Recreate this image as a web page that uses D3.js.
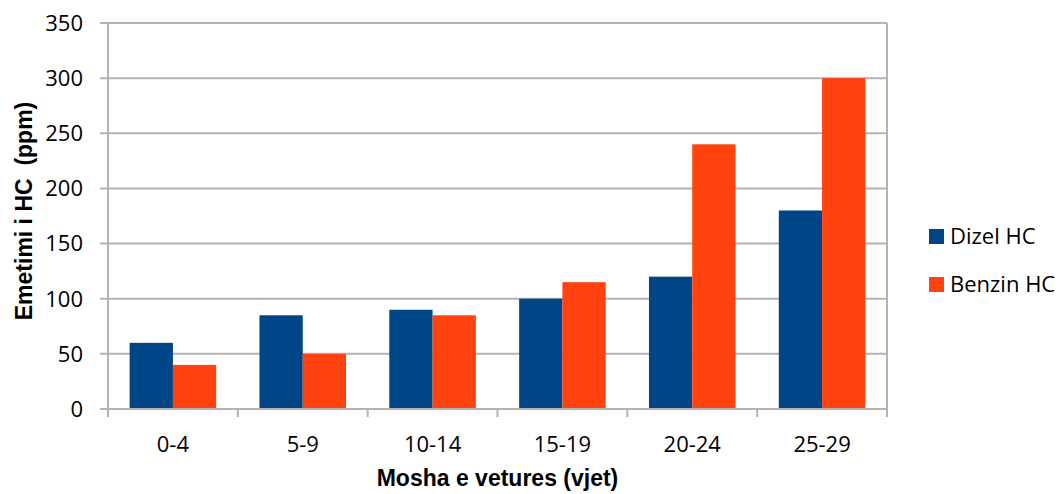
<!DOCTYPE html>
<html>
<head>
<meta charset="utf-8">
<script src="https://cdn.jsdelivr.net/npm/d3@7"></script>
<style>
  body { margin: 0; background: #fff; }
  svg { display: block; }
</style>
</head>
<body>
<svg id="chart" width="1061" height="494"></svg>
<script>
// data
var categories = ["0-4", "5-9", "10-14", "15-19", "20-24", "25-29"];
var seriesNames = ["Dizel HC", "Benzin HC"];
var dizel = [60, 85, 90, 100, 120, 180];
var benzin = [40, 50, 85, 115, 240, 300];
var yTicks = [0, 50, 100, 150, 200, 250, 300, 350];

var colors = ["#004586", "#ff420e"];
var gridColor = "#b3b3b3";
var tickFont = "'Open Sans', sans-serif";
var titleFont = "'Liberation Sans', Arial, sans-serif";

var margin = {left: 108, top: 23, right: 174, bottom: 85};
var width = 1061 - margin.left - margin.right;
var height = 494 - margin.top - margin.bottom;

var svg = d3.select("#chart");
var g = svg.append("g").attr("transform", "translate(" + margin.left + "," + margin.top + ")");

var x = d3.scaleBand().domain(categories).range([0, width]).paddingInner(0).paddingOuter(0);
var inner = d3.scaleBand().domain(seriesNames).range([x.bandwidth() / 6, x.bandwidth() * 5 / 6]);
var y = d3.scaleLinear().domain([0, 350]).range([height, 0]);

// horizontal gridlines with small ticks to the left
g.selectAll("line.grid").data(yTicks).enter().append("line")
    .attr("class", "grid")
    .attr("x1", -8).attr("x2", width)
    .attr("y1", function(d){ return y(d); })
    .attr("y2", function(d){ return y(d); })
    .attr("stroke", gridColor).attr("stroke-width", 2);

// y tick labels
g.selectAll("text.ytick").data(yTicks).enter().append("text")
    .attr("class", "ytick")
    .attr("x", -25)
    .attr("y", function(d){ return y(d); })
    .attr("dy", "0.36em")
    .attr("text-anchor", "end")
    .style("font-family", tickFont).style("font-size", "22px").attr("fill", "#000")
    .text(function(d){ return d; });

// bars
var seriesData = [dizel, benzin];
seriesData.forEach(function(vals, si){
    g.selectAll("rect.s" + si).data(vals).enter().append("rect")
        .attr("class", "s" + si)
        .attr("x", function(d, i){ return x(categories[i]) + inner(seriesNames[si]); })
        .attr("width", inner.bandwidth())
        .attr("y", function(d){ return y(d); })
        .attr("height", function(d){ return y(0) - y(d); })
        .attr("fill", colors[si]);
});

// left axis line and right border
[0, width].forEach(function(px){
    g.append("line")
        .attr("x1", px).attr("x2", px)
        .attr("y1", 0).attr("y2", height + 8)
        .attr("stroke", gridColor).attr("stroke-width", 2);
});

// baseline + category tick marks
g.append("line")
    .attr("x1", 0).attr("x2", width)
    .attr("y1", y(0)).attr("y2", y(0))
    .attr("stroke", gridColor).attr("stroke-width", 2);
g.selectAll("line.ctick").data(categories.slice(1)).enter().append("line")
    .attr("class", "ctick")
    .attr("x1", function(d){ return x(d); })
    .attr("x2", function(d){ return x(d); })
    .attr("y1", height).attr("y2", height + 8)
    .attr("stroke", gridColor).attr("stroke-width", 2);

// category labels
g.selectAll("text.xtick").data(categories).enter().append("text")
    .attr("class", "xtick")
    .attr("x", function(d){ return x(d) + x.bandwidth() / 2; })
    .attr("y", height + 43)
    .attr("text-anchor", "middle")
    .style("font-family", tickFont).style("font-size", "22px").attr("fill", "#000")
    .text(function(d){ return d; });

// axis titles
svg.append("text")
    .attr("x", margin.left + width / 2)
    .attr("y", 486)
    .attr("text-anchor", "middle")
    .style("font-family", titleFont).style("font-size", "23px").style("font-weight", "bold")
    .text("Mosha e vetures (vjet)");

svg.append("text")
    .attr("transform", "translate(32,211) rotate(-90)")
    .attr("text-anchor", "middle")
    .attr("xml:space", "preserve")
    .style("white-space", "pre")
    .style("font-family", titleFont).style("font-size", "23px").style("font-weight", "bold")
    .text("Emetimi i HC  (ppm)");

// legend
var legend = svg.append("g").attr("transform", "translate(929,229)");
seriesNames.forEach(function(name, i){
    legend.append("rect")
        .attr("x", 0).attr("y", i * 48)
        .attr("width", 15).attr("height", 15)
        .attr("fill", colors[i]);
    legend.append("text")
        .attr("x", 21).attr("y", i * 48 + 15)
        .style("font-family", tickFont).style("font-size", "22px").attr("fill", "#000")
        .text(name);
});
</script>
</body>
</html>
